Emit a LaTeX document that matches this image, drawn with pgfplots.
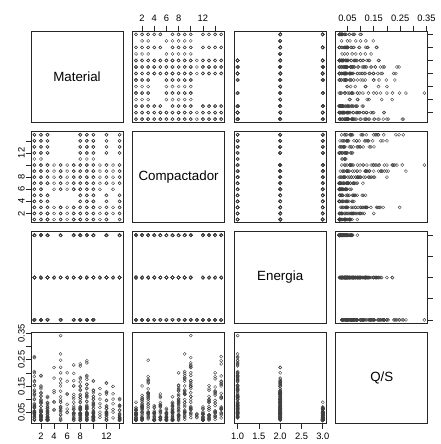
\documentclass[border=0pt]{standalone}
\usepackage{pgfplots}
\pgfplotsset{compat=1.18}
\usepackage{pgfplotstable}
\usepackage{fontspec}
\setmainfont{Liberation Sans}

\pgfplotstableread[row sep=\\]{
M C E Q\\
1 1 1 0.068\\ 1 1 2 0.045\\ 1 1 3 0.021\\
1 2 1 0.114\\ 1 2 2 0.072\\ 1 2 3 0.031\\
1 3 1 0.186\\ 1 3 2 0.121\\ 1 3 3 0.049\\
1 4 1 0.075\\ 1 4 2 0.050\\ 1 4 3 0.020\\
1 5 1 0.119\\ 1 5 2 0.079\\ 1 5 3 0.030\\
1 6 1 0.049\\ 1 6 2 0.033\\ 1 6 3 0.022\\
1 7 1 0.083\\ 1 7 2 0.055\\ 1 7 3 0.023\\
1 8 1 0.153\\ 1 8 2 0.101\\ 1 8 3 0.040\\
1 9 1 0.205\\ 1 9 2 0.134\\ 1 9 3 0.054\\
1 10 1 0.258\\ 1 10 2 0.170\\ 1 10 3 0.068\\
1 11 1 0.044\\
1 12 1 0.070\\ 1 12 2 0.046\\ 1 12 3 0.020\\
1 13 1 0.151\\ 1 13 2 0.098\\ 1 13 3 0.039\\
1 14 1 0.200\\ 1 14 2 0.129\\ 1 14 3 0.052\\
1 15 1 0.262\\ 1 15 2 0.166\\ 1 15 3 0.066\\
2 1 1 0.049\\ 2 1 2 0.032\\ 2 1 3 0.020\\
2 2 1 0.084\\ 2 2 2 0.054\\ 2 2 3 0.022\\
2 3 1 0.139\\ 2 3 2 0.090\\ 2 3 3 0.036\\
2 4 1 0.055\\ 2 4 2 0.036\\ 2 4 3 0.019\\
2 5 1 0.087\\ 2 5 2 0.057\\ 2 5 3 0.023\\
2 6 1 0.036\\ 2 6 2 0.024\\ 2 6 3 0.021\\
2 7 1 0.061\\ 2 7 2 0.040\\ 2 7 3 0.019\\
2 8 1 0.112\\ 2 8 2 0.073\\ 2 8 3 0.029\\
2 9 1 0.150\\ 2 9 2 0.098\\ 2 9 3 0.039\\
2 10 1 0.190\\ 2 10 2 0.124\\ 2 10 3 0.049\\
2 11 1 0.032\\
2 12 1 0.051\\ 2 12 2 0.033\\ 2 12 3 0.020\\
2 13 1 0.110\\ 2 13 2 0.072\\ 2 13 3 0.029\\
2 14 1 0.146\\ 2 14 2 0.095\\ 2 14 3 0.038\\
2 15 1 0.188\\ 2 15 2 0.122\\ 2 15 3 0.048\\
3 1 1 0.029\\ 3 1 2 0.021\\ 3 1 3 0.020\\
3 2 1 0.048\\ 3 2 2 0.031\\ 3 2 3 0.021\\
3 3 1 0.080\\ 3 3 2 0.052\\ 3 3 3 0.024\\
3 4 1 0.032\\ 3 4 2 0.022\\ 3 4 3 0.019\\
3 5 1 0.051\\ 3 5 2 0.033\\ 3 5 3 0.022\\
3 7 1 0.035\\ 3 7 2 0.024\\ 3 7 3 0.020\\
3 8 1 0.065\\ 3 8 2 0.042\\ 3 8 3 0.019\\
3 9 1 0.087\\ 3 9 2 0.057\\ 3 9 3 0.023\\
3 10 1 0.110\\ 3 10 2 0.072\\ 3 10 3 0.029\\
3 12 1 0.030\\ 3 12 2 0.020\\ 3 12 3 0.021\\
3 13 1 0.064\\ 3 13 2 0.041\\ 3 13 3 0.020\\
3 14 1 0.085\\ 3 14 2 0.055\\ 3 14 3 0.022\\
3 15 1 0.106\\ 3 15 2 0.070\\ 3 15 3 0.028\\
4 1 2 0.058\\ 4 2 2 0.090\\ 4 3 2 0.125\\ 4 6 2 0.060\\ 4 7 2 0.088\\ 4 8 2 0.132\\ 4 9 2 0.180\\ 4 10 2 0.220\\
5 1 1 0.088\\ 5 1 2 0.057\\ 5 1 3 0.023\\
5 2 1 0.150\\ 5 2 2 0.097\\ 5 2 3 0.039\\
5 3 1 0.248\\ 5 3 2 0.161\\ 5 3 3 0.065\\
5 6 1 0.065\\ 5 6 2 0.042\\ 5 6 3 0.019\\
5 7 1 0.109\\ 5 7 2 0.071\\ 5 7 3 0.028\\
5 8 1 0.200\\ 5 8 2 0.130\\ 5 8 3 0.052\\
5 9 1 0.272\\ 5 9 2 0.176\\ 5 9 3 0.070\\
5 10 1 0.342\\ 5 10 2 0.221\\ 5 10 3 0.088\\
6 1 2 0.050\\ 6 2 2 0.080\\ 6 3 2 0.120\\ 6 6 2 0.048\\ 6 7 2 0.062\\ 6 8 2 0.118\\ 6 9 2 0.168\\ 6 10 2 0.200\\
7 1 1 0.060\\ 7 1 2 0.039\\ 7 1 3 0.020\\
7 2 1 0.101\\ 7 2 2 0.066\\ 7 2 3 0.026\\
7 3 1 0.170\\ 7 3 2 0.109\\ 7 3 3 0.044\\
7 6 1 0.044\\ 7 6 2 0.028\\ 7 6 3 0.019\\
7 7 1 0.074\\ 7 7 2 0.048\\ 7 7 3 0.021\\
7 8 1 0.150\\ 7 8 2 0.088\\ 7 8 3 0.035\\
7 9 1 0.198\\ 7 9 2 0.118\\ 7 9 3 0.047\\
7 10 1 0.230\\ 7 10 2 0.150\\ 7 10 3 0.060\\
8 1 1 0.058\\ 8 1 2 0.038\\ 8 1 3 0.021\\
8 2 1 0.098\\ 8 2 2 0.064\\ 8 2 3 0.027\\
8 3 1 0.165\\ 8 3 2 0.106\\ 8 3 3 0.043\\
8 4 1 0.067\\ 8 4 2 0.043\\ 8 4 3 0.019\\
8 5 1 0.106\\ 8 5 2 0.069\\ 8 5 3 0.028\\
8 6 1 0.044\\ 8 6 2 0.029\\ 8 6 3 0.021\\
8 7 1 0.072\\ 8 7 2 0.047\\ 8 7 3 0.019\\
8 8 1 0.136\\ 8 8 2 0.089\\ 8 8 3 0.036\\
8 9 1 0.182\\ 8 9 2 0.118\\ 8 9 3 0.047\\
8 10 1 0.226\\ 8 10 2 0.148\\ 8 10 3 0.059\\
8 11 1 0.039\\
8 12 1 0.062\\ 8 12 2 0.040\\ 8 12 3 0.020\\
8 13 1 0.133\\ 8 13 2 0.087\\ 8 13 3 0.035\\
8 14 1 0.177\\ 8 14 2 0.115\\ 8 14 3 0.046\\
8 15 1 0.234\\ 8 15 2 0.150\\ 8 15 3 0.060\\
9 1 1 0.062\\ 9 1 2 0.041\\ 9 1 3 0.020\\
9 2 1 0.106\\ 9 2 2 0.069\\ 9 2 3 0.027\\
9 3 1 0.175\\ 9 3 2 0.114\\ 9 3 3 0.046\\
9 4 1 0.070\\ 9 4 2 0.045\\ 9 4 3 0.021\\
9 5 1 0.110\\ 9 5 2 0.072\\ 9 5 3 0.029\\
9 6 1 0.046\\ 9 6 2 0.030\\ 9 6 3 0.019\\
9 7 1 0.077\\ 9 7 2 0.050\\ 9 7 3 0.020\\
9 8 1 0.142\\ 9 8 2 0.092\\ 9 8 3 0.037\\
9 9 1 0.190\\ 9 9 2 0.123\\ 9 9 3 0.049\\
9 10 1 0.238\\ 9 10 2 0.156\\ 9 10 3 0.062\\
9 11 1 0.041\\
9 12 1 0.065\\ 9 12 2 0.042\\ 9 12 3 0.021\\
9 13 1 0.139\\ 9 13 2 0.090\\ 9 13 3 0.036\\
9 14 1 0.185\\ 9 14 2 0.120\\ 9 14 3 0.048\\
9 15 1 0.246\\ 9 15 2 0.156\\ 9 15 3 0.062\\
10 1 1 0.044\\ 10 1 2 0.029\\ 10 1 3 0.019\\
10 2 1 0.075\\ 10 2 2 0.049\\ 10 2 3 0.020\\
10 3 1 0.124\\ 10 3 2 0.081\\ 10 3 3 0.032\\
10 4 1 0.049\\ 10 4 2 0.032\\ 10 4 3 0.020\\
10 5 1 0.078\\ 10 5 2 0.051\\ 10 5 3 0.021\\
10 6 1 0.032\\ 10 6 2 0.022\\ 10 6 3 0.020\\
10 7 1 0.054\\ 10 7 2 0.035\\ 10 7 3 0.019\\
10 8 1 0.100\\ 10 8 2 0.065\\ 10 8 3 0.026\\
10 9 1 0.134\\ 10 9 2 0.087\\ 10 9 3 0.035\\
10 10 1 0.170\\ 10 10 2 0.110\\ 10 10 3 0.044\\
10 11 1 0.029\\
10 12 1 0.046\\ 10 12 2 0.030\\ 10 12 3 0.020\\
10 13 1 0.099\\ 10 13 2 0.064\\ 10 13 3 0.026\\
10 14 1 0.131\\ 10 14 2 0.085\\ 10 14 3 0.034\\
10 15 1 0.168\\ 10 15 2 0.109\\ 10 15 3 0.044\\
11 1 2 0.040\\ 11 2 2 0.068\\ 11 3 2 0.100\\ 11 6 2 0.030\\ 11 7 2 0.050\\ 11 8 2 0.082\\ 11 9 2 0.118\\ 11 10 2 0.140\\
12 1 2 0.042\\ 12 1 3 0.019\\
12 2 2 0.072\\ 12 2 3 0.029\\
12 3 2 0.119\\ 12 3 3 0.047\\
12 4 2 0.047\\ 12 4 3 0.020\\
12 5 2 0.075\\ 12 5 3 0.030\\
12 7 2 0.052\\ 12 7 3 0.021\\
12 8 2 0.096\\ 12 8 3 0.038\\
12 9 2 0.128\\ 12 9 3 0.051\\
12 10 2 0.162\\ 12 10 3 0.065\\
12 12 2 0.044\\ 12 12 3 0.020\\
12 13 2 0.094\\ 12 13 3 0.038\\
12 14 2 0.125\\ 12 14 3 0.050\\
12 15 2 0.160\\ 12 15 3 0.064\\
13 2 2 0.060\\ 13 3 2 0.100\\ 13 6 2 0.028\\ 13 7 2 0.050\\ 13 8 2 0.082\\ 13 9 2 0.120\\ 13 10 2 0.148\\
14 1 2 0.025\\ 14 1 3 0.019\\
14 2 2 0.043\\ 14 2 3 0.020\\
14 3 2 0.071\\ 14 3 3 0.028\\
14 4 2 0.028\\ 14 4 3 0.019\\
14 5 2 0.045\\ 14 5 3 0.021\\
14 7 2 0.031\\ 14 7 3 0.020\\
14 8 2 0.058\\ 14 8 3 0.023\\
14 9 2 0.077\\ 14 9 3 0.031\\
14 10 2 0.098\\ 14 10 3 0.039\\
14 12 2 0.026\\ 14 12 3 0.020\\
14 13 2 0.057\\ 14 13 3 0.023\\
14 14 2 0.075\\ 14 14 3 0.030\\
14 15 2 0.102\\ 14 15 3 0.039\\
}\data

\tikzset{diag/.style={font=\fontsize{10}{12}\selectfont}}
\pgfplotsset{
  panel/.style={scale only axis, width=69pt, height=68.625pt, anchor=south west,
    axis line style={black!85, line width=0.6pt},
    xtick=\empty, ytick=\empty,
    tick align=outside, major tick length=3.75pt,
    every tick/.style={black!85, line width=0.5pt},
    tick label style={font=\fontsize{7}{8}\selectfont, text=black},
    /pgf/number format/assume math mode=true},
  Mx/.style={xmin=0.48, xmax=14.52}, My/.style={ymin=0.48, ymax=14.52},
  Cx/.style={xmin=0.44, xmax=15.56}, Cy/.style={ymin=0.44, ymax=15.56},
  Ex/.style={xmin=0.92, xmax=3.08}, Ey/.style={ymin=0.92, ymax=3.08},
  Qx/.style={xmin=0.0061, xmax=0.3549}, Qy/.style={ymin=0.0061, ymax=0.3549},
  pts/.style={only marks, mark=o, draw=black!75, mark size=1.15pt, mark options={line width=0.3pt, draw=black!75}},
  MCticks/.style={#1tick={2,4,6,8,10,12,14}, #1ticklabels={2,4,6,8,{},12,{}}},
  MCbare/.style={#1tick={2,4,6,8,10,12,14}, #1ticklabels={}},
  Eticks/.style={#1tick={1,1.5,2,2.5,3}, #1ticklabels={1.0,1.5,2.0,2.5,3.0}},
  Ebare/.style={#1tick={1,1.5,2,2.5,3}, #1ticklabels={}},
  Qticks/.style={#1tick={0.05,0.1,0.15,0.2,0.25,0.3,0.35}, #1ticklabels={0.05,{},0.15,{},0.25,{},0.35}},
  lefty/.style={ytick pos=left, yticklabel pos=left, yticklabel style={rotate=90, anchor=south, yshift=-2.5pt}},
  righty/.style={ytick pos=right, yticklabel pos=right},
  topx/.style={xtick pos=right, xticklabel pos=right},
  botx/.style={xtick pos=left, xticklabel pos=left},
}

\begin{document}
\begin{tikzpicture}
\path[use as bounding box] (0,0) rectangle (330.75pt,333pt);
% Row 1: Material
\begin{axis}[panel, at={(23.25pt,241.125pt)}, Mx, My]
\node[diag] at (rel axis cs:0.5,0.5) {Material};
\end{axis}
\begin{axis}[panel, at={(99.45pt,241.125pt)}, Cx, My, topx, MCticks=x]
\addplot[pts] table[x=C, y=M] {\data};
\end{axis}
\begin{axis}[panel, at={(175.65pt,241.125pt)}, Ex, My]
\addplot[pts] table[x=E, y=M] {\data};
\end{axis}
\begin{axis}[panel, at={(251.85pt,241.125pt)}, Qx, My, topx, Qticks=x, righty, MCbare=y]
\addplot[pts] table[x=Q, y=M] {\data};
\end{axis}
% Row 2: Compactador
\begin{axis}[panel, at={(23.25pt,165.825pt)}, Mx, Cy, lefty, MCticks=y]
\addplot[pts] table[x=M, y=C] {\data};
\end{axis}
\begin{axis}[panel, at={(99.45pt,165.825pt)}, Cx, Cy]
\node[diag] at (rel axis cs:0.5,0.5) {Compactador};
\end{axis}
\begin{axis}[panel, at={(175.65pt,165.825pt)}, Ex, Cy]
\addplot[pts] table[x=E, y=C] {\data};
\end{axis}
\begin{axis}[panel, at={(251.85pt,165.825pt)}, Qx, Cy]
\addplot[pts] table[x=Q, y=C] {\data};
\end{axis}
% Row 3: Energia
\begin{axis}[panel, at={(23.25pt,90.525pt)}, Mx, Ey]
\addplot[pts] table[x=M, y=E] {\data};
\end{axis}
\begin{axis}[panel, at={(99.45pt,90.525pt)}, Cx, Ey]
\addplot[pts] table[x=C, y=E] {\data};
\end{axis}
\begin{axis}[panel, at={(175.65pt,90.525pt)}, Ex, Ey]
\node[diag] at (rel axis cs:0.5,0.5) {Energia};
\end{axis}
\begin{axis}[panel, at={(251.85pt,90.525pt)}, Qx, Ey, righty, Ebare=y]
\addplot[pts] table[x=Q, y=E] {\data};
\end{axis}
% Row 4: Q/S
\begin{axis}[panel, at={(23.25pt,15.225pt)}, Mx, Qy, lefty, Qticks=y, botx, MCticks=x]
\addplot[pts] table[x=M, y=Q] {\data};
\end{axis}
\begin{axis}[panel, at={(99.45pt,15.225pt)}, Cx, Qy]
\addplot[pts] table[x=C, y=Q] {\data};
\end{axis}
\begin{axis}[panel, at={(175.65pt,15.225pt)}, Ex, Qy, botx, Eticks=x]
\addplot[pts] table[x=E, y=Q] {\data};
\end{axis}
\begin{axis}[panel, at={(251.85pt,15.225pt)}, Qx, Qy]
\node[diag] at (rel axis cs:0.5,0.5) {Q/S};
\end{axis}
\end{tikzpicture}
\end{document}
